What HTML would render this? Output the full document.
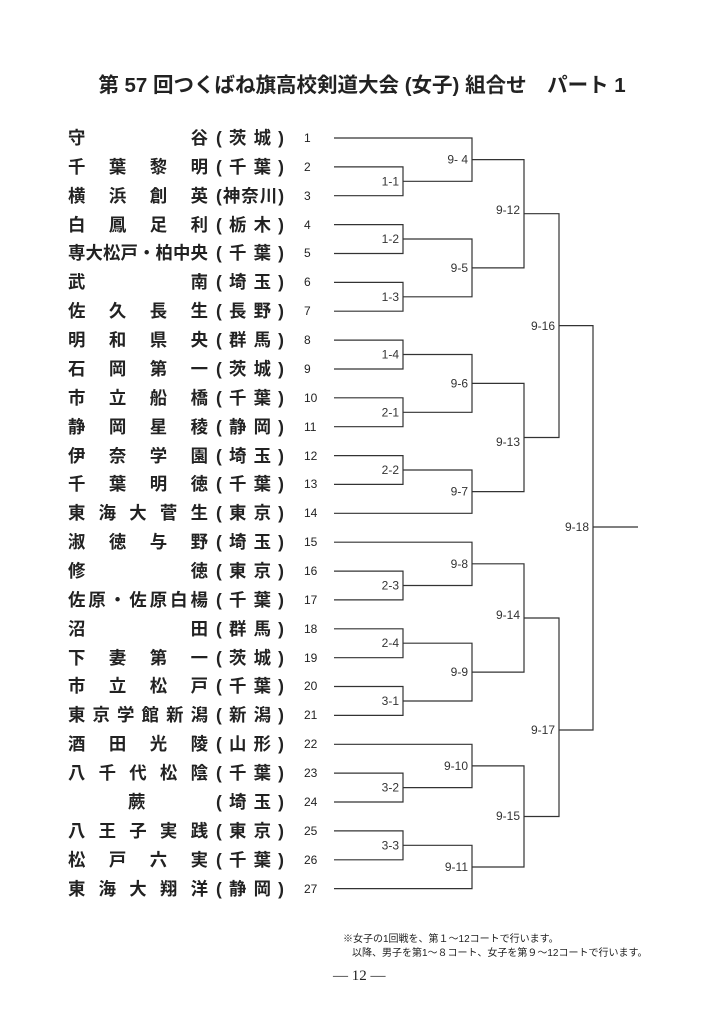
<!DOCTYPE html>
<html><head><meta charset="utf-8"><style>
body{margin:0;background:#fff;}
#p{position:relative;width:724px;height:1024px;overflow:hidden;background:#fff;font-family:"Liberation Sans","Noto Sans CJK JP",sans-serif;color:#222;}
.t{position:absolute;left:0;width:724px;top:68px;text-align:center;font-size:20.5px;font-weight:bold;white-space:nowrap;}
.r{position:absolute;left:68px;height:24px;line-height:24px;font-weight:bold;font-size:17.4px;}
.n{position:absolute;left:0;width:140px;display:flex;justify-content:space-between;}
.f{position:absolute;left:148px;width:68px;display:flex;justify-content:space-between;}
.k{position:absolute;left:236px;font-size:12px;font-weight:normal;width:20px;}
.note{position:absolute;font-size:10px;white-space:nowrap;font-family:"Liberation Sans","Noto Sans CJK JP",sans-serif;}
</style></head><body><div id="p">
<div class="t">第 57 回つくばね旗高校剣道大会 (女子) 組合せ　パート 1</div>

<div class="r" style="top:126px"><div class="n"><span>守</span><span>谷</span></div><div class="f"><span>(</span><span>茨</span><span>城</span><span>)</span></div><div class="k">1</div></div>
<div class="r" style="top:155px"><div class="n"><span>千</span><span>葉</span><span>黎</span><span>明</span></div><div class="f"><span>(</span><span>千</span><span>葉</span><span>)</span></div><div class="k">2</div></div>
<div class="r" style="top:184px"><div class="n"><span>横</span><span>浜</span><span>創</span><span>英</span></div><div class="f"><span>(</span><span>神</span><span>奈</span><span>川</span><span>)</span></div><div class="k">3</div></div>
<div class="r" style="top:213px"><div class="n"><span>白</span><span>鳳</span><span>足</span><span>利</span></div><div class="f"><span>(</span><span>栃</span><span>木</span><span>)</span></div><div class="k">4</div></div>
<div class="r" style="top:241px"><div class="n"><span>専</span><span>大</span><span>松</span><span>戸</span><span>・</span><span>柏</span><span>中</span><span>央</span></div><div class="f"><span>(</span><span>千</span><span>葉</span><span>)</span></div><div class="k">5</div></div>
<div class="r" style="top:270px"><div class="n"><span>武</span><span>南</span></div><div class="f"><span>(</span><span>埼</span><span>玉</span><span>)</span></div><div class="k">6</div></div>
<div class="r" style="top:299px"><div class="n"><span>佐</span><span>久</span><span>長</span><span>生</span></div><div class="f"><span>(</span><span>長</span><span>野</span><span>)</span></div><div class="k">7</div></div>
<div class="r" style="top:328px"><div class="n"><span>明</span><span>和</span><span>県</span><span>央</span></div><div class="f"><span>(</span><span>群</span><span>馬</span><span>)</span></div><div class="k">8</div></div>
<div class="r" style="top:357px"><div class="n"><span>石</span><span>岡</span><span>第</span><span>一</span></div><div class="f"><span>(</span><span>茨</span><span>城</span><span>)</span></div><div class="k">9</div></div>
<div class="r" style="top:386px"><div class="n"><span>市</span><span>立</span><span>船</span><span>橋</span></div><div class="f"><span>(</span><span>千</span><span>葉</span><span>)</span></div><div class="k">10</div></div>
<div class="r" style="top:415px"><div class="n"><span>静</span><span>岡</span><span>星</span><span>稜</span></div><div class="f"><span>(</span><span>静</span><span>岡</span><span>)</span></div><div class="k">11</div></div>
<div class="r" style="top:444px"><div class="n"><span>伊</span><span>奈</span><span>学</span><span>園</span></div><div class="f"><span>(</span><span>埼</span><span>玉</span><span>)</span></div><div class="k">12</div></div>
<div class="r" style="top:472px"><div class="n"><span>千</span><span>葉</span><span>明</span><span>徳</span></div><div class="f"><span>(</span><span>千</span><span>葉</span><span>)</span></div><div class="k">13</div></div>
<div class="r" style="top:501px"><div class="n"><span>東</span><span>海</span><span>大</span><span>菅</span><span>生</span></div><div class="f"><span>(</span><span>東</span><span>京</span><span>)</span></div><div class="k">14</div></div>
<div class="r" style="top:530px"><div class="n"><span>淑</span><span>徳</span><span>与</span><span>野</span></div><div class="f"><span>(</span><span>埼</span><span>玉</span><span>)</span></div><div class="k">15</div></div>
<div class="r" style="top:559px"><div class="n"><span>修</span><span>徳</span></div><div class="f"><span>(</span><span>東</span><span>京</span><span>)</span></div><div class="k">16</div></div>
<div class="r" style="top:588px"><div class="n"><span>佐</span><span>原</span><span>・</span><span>佐</span><span>原</span><span>白</span><span>楊</span></div><div class="f"><span>(</span><span>千</span><span>葉</span><span>)</span></div><div class="k">17</div></div>
<div class="r" style="top:617px"><div class="n"><span>沼</span><span>田</span></div><div class="f"><span>(</span><span>群</span><span>馬</span><span>)</span></div><div class="k">18</div></div>
<div class="r" style="top:646px"><div class="n"><span>下</span><span>妻</span><span>第</span><span>一</span></div><div class="f"><span>(</span><span>茨</span><span>城</span><span>)</span></div><div class="k">19</div></div>
<div class="r" style="top:674px"><div class="n"><span>市</span><span>立</span><span>松</span><span>戸</span></div><div class="f"><span>(</span><span>千</span><span>葉</span><span>)</span></div><div class="k">20</div></div>
<div class="r" style="top:703px"><div class="n"><span>東</span><span>京</span><span>学</span><span>館</span><span>新</span><span>潟</span></div><div class="f"><span>(</span><span>新</span><span>潟</span><span>)</span></div><div class="k">21</div></div>
<div class="r" style="top:732px"><div class="n"><span>酒</span><span>田</span><span>光</span><span>陵</span></div><div class="f"><span>(</span><span>山</span><span>形</span><span>)</span></div><div class="k">22</div></div>
<div class="r" style="top:761px"><div class="n"><span>八</span><span>千</span><span>代</span><span>松</span><span>陰</span></div><div class="f"><span>(</span><span>千</span><span>葉</span><span>)</span></div><div class="k">23</div></div>
<div class="r" style="top:790px"><div class="n"><span style="position:absolute;left:60px">蕨</span></div><div class="f"><span>(</span><span>埼</span><span>玉</span><span>)</span></div><div class="k">24</div></div>
<div class="r" style="top:819px"><div class="n"><span>八</span><span>王</span><span>子</span><span>実</span><span>践</span></div><div class="f"><span>(</span><span>東</span><span>京</span><span>)</span></div><div class="k">25</div></div>
<div class="r" style="top:848px"><div class="n"><span>松</span><span>戸</span><span>六</span><span>実</span></div><div class="f"><span>(</span><span>千</span><span>葉</span><span>)</span></div><div class="k">26</div></div>
<div class="r" style="top:877px"><div class="n"><span>東</span><span>海</span><span>大</span><span>翔</span><span>洋</span></div><div class="f"><span>(</span><span>静</span><span>岡</span><span>)</span></div><div class="k">27</div></div>

<svg width="724" height="1024" style="position:absolute;left:0;top:0" xmlns="http://www.w3.org/2000/svg">
<g fill="none" stroke="#333" stroke-width="1.2">
<path d="M334 166.9H403V195.7H334"/>
<path d="M334 224.6H403V253.5H334"/>
<path d="M334 282.4H403V311.2H334"/>
<path d="M334 340.1H403V369H334"/>
<path d="M334 397.8H403V426.7H334"/>
<path d="M334 455.6H403V484.4H334"/>
<path d="M334 571.1H403V599.9H334"/>
<path d="M334 628.8H403V657.7H334"/>
<path d="M334 686.5H403V715.4H334"/>
<path d="M334 773.1H403V802H334"/>
<path d="M334 830.9H403V859.8H334"/>
<path d="M334 138H472V181.3H403"/>
<path d="M403 239H472V296.8H403"/>
<path d="M403 354.5H472V412.3H403"/>
<path d="M403 470H472V513.3H334"/>
<path d="M334 542.2H472V585.5H403"/>
<path d="M403 643.2H472V701H403"/>
<path d="M334 744.3H472V787.6H403"/>
<path d="M403 845.3H472V888.6H334"/>
<path d="M472 159.6H524V267.9H472"/>
<path d="M472 383.4H524V491.6H472"/>
<path d="M472 563.8H524V672.1H472"/>
<path d="M472 765.9H524V867H472"/>
<path d="M524 213.7H559V437.5H524"/>
<path d="M524 618H559V816.5H524"/>
<path d="M559 325.6H593V730H559"/>
<path d="M593 527H638"/>
</g>
<g font-family="Liberation Sans, sans-serif" font-size="12" fill="#333" text-anchor="end">
<text x="399" y="185.5">1-1</text><text x="399" y="243">1-2</text><text x="399" y="301">1-3</text>
<text x="399" y="358.5">1-4</text><text x="399" y="416.5">2-1</text><text x="399" y="474">2-2</text>
<text x="399" y="589.5">2-3</text><text x="399" y="647">2-4</text><text x="399" y="705">3-1</text>
<text x="399" y="791.5">3-2</text><text x="399" y="849.5">3-3</text>
<text x="468" y="163.5">9- 4</text><text x="468" y="272">9-5</text><text x="468" y="387.5">9-6</text><text x="468" y="495.5">9-7</text>
<text x="468" y="568">9-8</text><text x="468" y="676">9-9</text><text x="468" y="770">9-10</text><text x="468" y="871">9-11</text>
<text x="520" y="214">9-12</text><text x="520" y="446">9-13</text><text x="520" y="619">9-14</text><text x="520" y="820">9-15</text>
<text x="555" y="330">9-16</text><text x="555" y="734">9-17</text><text x="589" y="531">9-18</text>
</g>
</svg>
<div class="note" style="left:343px;top:930px">※女子の1回戦を、第１～12コートで行います。</div>
<div class="note" style="left:352px;top:944px">以降、男子を第1～８コート、女子を第９～12コートで行います。</div>
<div class="note" style="left:333px;top:968px;font-size:15px;font-family:'Liberation Serif',serif">— 12 —</div>
</div></body></html>
